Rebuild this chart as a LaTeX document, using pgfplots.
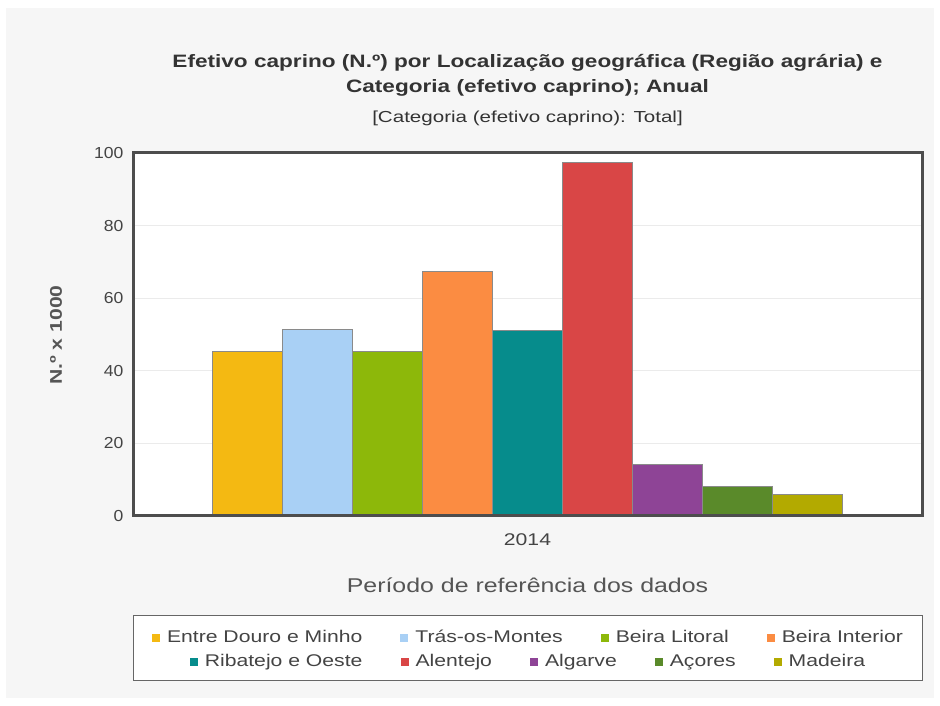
\documentclass[border=0pt]{standalone}
\usepackage{pgfplots}
\pgfplotsset{compat=1.18}
\usepackage{fontspec}
\setmainfont{Liberation Sans}
\newfontfamily\tickfont[FakeStretch=1.1]{Liberation Sans}
\newfontfamily\wide[FakeStretch=1.25]{Liberation Sans}
\newfontfamily\titlefont[FakeStretch=1.26]{Liberation Sans}
\newfontfamily\subfont[FakeStretch=1.29]{Liberation Sans}

\definecolor{bgpanel}{HTML}{F6F6F6}
\definecolor{titlec}{HTML}{333333}
\definecolor{labelc}{HTML}{555555}
\definecolor{tickc}{HTML}{444444}
\definecolor{axisc}{HTML}{4D4D4D}
\definecolor{gridc}{HTML}{EBEBEB}
\definecolor{edgec}{HTML}{8A8A8A}
\definecolor{legbox}{HTML}{666666}

\definecolor{cEDM}{HTML}{F4B912}
\definecolor{cTM}{HTML}{A9D0F5}
\definecolor{cBL}{HTML}{8DB80A}
\definecolor{cBI}{HTML}{FB8C42}
\definecolor{cRO}{HTML}{068C8C}
\definecolor{cAL}{HTML}{D94646}
\definecolor{cAG}{HTML}{8E4496}
\definecolor{cAC}{HTML}{5A8A2A}
\definecolor{cMA}{HTML}{B3AA00}

% legend item: coloured square followed by its name
\newcommand{\legitem}[2]{\textcolor{#1}{\rule{8bp}{8bp}}\hspace{7bp}#2}
\newcommand{\leggap}{\hspace{38bp}}

\begin{document}
\begin{tikzpicture}[x=1bp,y=1bp]
  % page and panel background
  \fill[white] (0bp,0bp) rectangle (940bp,706bp);
  \fill[bgpanel] (6bp,8bp) rectangle (934bp,698bp);

  % titles
  \node[font=\titlefont\bfseries\fontsize{18}{25}\selectfont, text=titlec, align=center]
    at (527.5bp,631bp) {Efetivo caprino (N.º) por Localização geográfica (Região agrária) e\\Categoria (efetivo caprino); Anual};
  \node[font=\subfont\fontsize{16}{18}\selectfont, text=titlec] at (527.5bp,588bp) {[Categoria (efetivo caprino): Total]};

  \begin{axis}[
    at={(133bp,190bp)}, anchor=south west,
    width=789bp, height=363bp, scale only axis,
    axis background/.style={fill=white},
    clip=false,
    xmin=-1, xmax=1, ymin=0, ymax=100,
    ybar=0pt, bar width=70bp,
    xtick={0}, xticklabels={2014},
    ytick={0,20,40,60,80,100},
    ymajorgrids, major grid style={draw=gridc, line width=0.8bp},
    axis line style={draw=none},
    tick style={draw=none},
    /pgf/number format/assume math mode=true,
    yticklabel style={font=\tickfont\fontsize{16}{18}\selectfont, text=tickc, xshift=-6bp},
    xticklabel style={font=\wide\fontsize{17}{19}\selectfont, text=tickc, yshift=-10bp},
    every axis plot/.append style={draw=edgec, line width=0.8bp},
  ]
    \addplot[fill=cEDM] coordinates {(0,45.4)};
    \addplot[fill=cTM]  coordinates {(0,51.3)};
    \addplot[fill=cBL]  coordinates {(0,45.4)};
    \addplot[fill=cBI]  coordinates {(0,67.5)};
    \addplot[fill=cRO]  coordinates {(0,51.2)};
    \addplot[fill=cAL]  coordinates {(0,97.4)};
    \addplot[fill=cAG]  coordinates {(0,14.1)};
    \addplot[fill=cAC]  coordinates {(0,8.1)};
    \addplot[fill=cMA]  coordinates {(0,5.9)};
    % plot frame drawn over the bars
    \draw[axisc, line width=3bp] (rel axis cs:0,0) rectangle (rel axis cs:1,1);
  \end{axis}

  % axis titles
  \node[font=\wide\bfseries\fontsize{17}{20}\selectfont, text=labelc, rotate=90] at (56bp,371bp) {N.º x 1000};
  \node[font=\wide\fontsize{20}{22}\selectfont, text=labelc] at (527.5bp,121bp) {Período de referência dos dados};

  % legend
  \draw[legbox, fill=white, line width=1bp] (133bp,25bp) rectangle (922bp,90bp);
  \node[font=\wide\fontsize{17}{19}\selectfont, text=tickc] at (527.5bp,70bp) {%
    \legitem{cEDM}{Entre Douro e Minho}\leggap
    \legitem{cTM}{Trás-os-Montes}\leggap
    \legitem{cBL}{Beira Litoral}\leggap
    \legitem{cBI}{Beira Interior}};
  \node[font=\wide\fontsize{17}{19}\selectfont, text=tickc] at (527.5bp,44bp) {%
    \legitem{cRO}{Ribatejo e Oeste}\leggap
    \legitem{cAL}{Alentejo}\leggap
    \legitem{cAG}{Algarve}\leggap
    \legitem{cAC}{Açores}\leggap
    \legitem{cMA}{Madeira}};
\end{tikzpicture}
\end{document}
